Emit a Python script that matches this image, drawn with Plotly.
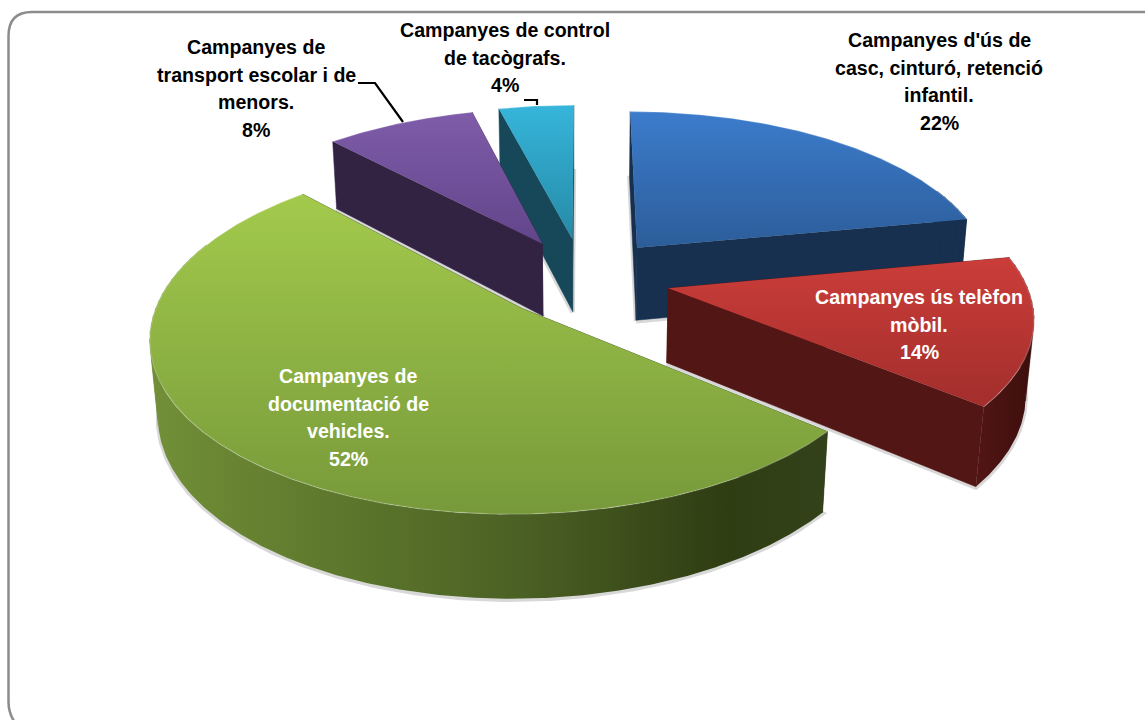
import numpy as np
import plotly.graph_objects as go

# Data
# ----------------------------------------------------------------------------
values = [22, 14, 52, 8, 4]
percent_labels = ["22%", "14%", "52%", "8%", "4%"]
label_lines = [
    ["Campanyes d'ús de", "casc, cinturó, retenció", "infantil."],
    ["Campanyes ús telèfon", "mòbil."],
    ["Campanyes de", "documentació de", "vehicles."],
    ["Campanyes de", "transport escolar i de", "menors."],
    ["Campanyes de control", "de tacògrafs."],
]

# Style, same order as values
# ----------------------------------------------------------------------------
top_colors = [
    ("#3c7ccc", "#2c5d9a"),
    ("#cb3d39", "#a22e2c"),
    ("#a3ca4c", "#77993a"),
    ("#7f5ca9", "#61458a"),
    ("#36b5da", "#268aa6"),
]
cut_colors = ["#17304f", "#521614", "#33421a", "#322343", "#16485a"]
outer_scales = [
    [[0, "#17304f"], [1, "#17304f"]],
    [[0, "#521614"], [1, "#3c0e0d"]],
    [[0, "#728f38"], [0.25, "#5f7a2d"], [0.55, "#4b6024"], [0.85, "#2f3d13"], [1, "#33421a"]],
    [[0, "#322343"], [1, "#322343"]],
    [[0, "#16485a"], [1, "#16485a"]],
]
label_colors = ["black", "white", "white", "black", "black"]
label_x = [939, 919, 348, 256, 505]
label_y = [40, 297, 376, 47, 30]
draw_order = [0, 4, 3, 1, 2]

# Pie geometry, in pixels of the page
CX, CY = 583, 278
RX, RY = 356, 165
PERSP = 0.15
EXPLODE = 0.245
WALL = 74
SHRINK = 0.018
LINE_GAP = 27.6
# the outer face shows between these angles, the ends get solid strips
FRONT = (100, 260)


def project(x, y, z=0):
    s = 1 / (1 - PERSP * y + SHRINK * z)
    return CX + RX * x * s, CY + RY * y * s + z * WALL * s / (1 / (1 + SHRINK * z))


def rim(a0, a1, off):
    t = np.radians(np.linspace(a0, a1, max(int(a1 - a0) * 2, 3)))
    return off[0] + np.sin(t), off[1] - np.cos(t)


def poly(xs, ys, **kw):
    return go.Scatter(x=list(xs) + [xs[0]], y=list(ys) + [ys[0]], mode="lines", fill="toself",
                      hoverinfo="skip", showlegend=False, **kw)


def wall(wx, wy, **kw):
    tu, tv = project(wx, wy, 0)
    du, dv = project(wx[::-1], wy[::-1], 1)
    return poly(np.concatenate([tu, du]), np.concatenate([tv, dv]), **kw)


fig = go.Figure()

# slice angles come from the values, clockwise from the top
edges = np.cumsum([0] + values) / sum(values) * 360

for i in draw_order:
    a0, a1 = edges[i], edges[i + 1]
    mid = np.radians((a0 + a1) / 2)
    off = (EXPLODE * np.sin(mid), -EXPLODE * np.cos(mid))
    rx, ry = rim(a0, a1, off)

    # soft shadow round the foot of the slice
    bx = np.concatenate([[off[0]], rx, [off[0]]])
    by = np.concatenate([[off[1]], ry, [off[1]]])
    su, sv = project(bx, by, 1)
    fig.add_trace(go.Scatter(x=su, y=sv + 1, mode="lines", hoverinfo="skip", showlegend=False,
                             line=dict(color="rgba(90,90,90,0.24)", width=4.5)))

    # the two cut faces
    for k in (0, -1):
        fig.add_trace(wall(np.array([off[0], rx[k]]), np.array([off[1], ry[k]]),
                           fillcolor=cut_colors[i], line=dict(color=cut_colors[i], width=0.5)))

    # solid strips where the outer face turns away, they fill the silhouette
    for t0 in np.arange(a0, a1, 2.5):
        t1 = min(t0 + 3, a1)
        if t1 < FRONT[0] + 4 and t1 > 70:
            color = outer_scales[i][-1][1]
        elif t0 > FRONT[1] - 4 and t0 < 290:
            color = outer_scales[i][0][1]
        else:
            continue
        sx, sy = rim(t0, t1, off)
        fig.add_trace(wall(sx, sy, fillcolor=color, line=dict(color=color, width=0.5)))

    # outer face
    f0, f1 = max(a0, FRONT[0]), min(a1, FRONT[1])
    if f1 > f0:
        fx, fy = rim(f0, f1, off)
        fig.add_trace(wall(fx, fy, line=dict(width=0),
                           fillgradient=dict(type="horizontal", colorscale=outer_scales[i])))

    # top face, the axis is reversed so the scale runs bottom colour first
    tu, tv = project(bx[:-1], by[:-1], 0)
    fig.add_trace(poly(tu, tv, line=dict(width=0), fillgradient=dict(
        type="vertical",
        colorscale=[[0, top_colors[i][1]], [1, top_colors[i][0]]],
    )))

    # light bevel on the rim
    eu, ev = project(rx, ry, 0)
    fig.add_trace(go.Scatter(x=eu, y=ev, mode="lines", hoverinfo="skip", showlegend=False,
                             line=dict(color="rgba(255,255,255,0.22)", width=1.3)))

# labels
for i, lines in enumerate(label_lines):
    for n, text in enumerate(lines + [percent_labels[i]]):
        fig.add_annotation(x=label_x[i], y=label_y[i] + n * LINE_GAP, text="<b>" + text + "</b>",
                           showarrow=False, xanchor="center", yanchor="middle",
                           font=dict(family="Liberation Sans", size=19.6, color=label_colors[i]))

fig.update_layout(
    width=1145,
    height=720,
    margin=dict(l=0, r=0, t=0, b=0),
    paper_bgcolor="white",
    plot_bgcolor="white",
    xaxis=dict(range=[0, 1145], visible=False, fixedrange=True),
    yaxis=dict(range=[720, 0], visible=False, fixedrange=True),
    shapes=[
        # rounded frame, runs off the right and the bottom
        dict(type="path", xref="x", yref="y", line=dict(color="#8c8c8c", width=2.5),
             path="M 1150,12 L 32,12 Q 8.5,12 8.5,36 L 8.5,702 Q 8.5,714 16,724"),
        # leader lines
        dict(type="path", xref="x", yref="y", line=dict(color="black", width=2.2),
             path="M 358,83 L 375,83 L 403,122"),
        dict(type="path", xref="x", yref="y", line=dict(color="black", width=2.2),
             path="M 524,100 L 537,100 L 537,105"),
    ],
)

fig.write_html("out.html", config=dict(displayModeBar=False),
               post_script="document.body.style.margin='0';document.body.style.overflow='hidden';")
